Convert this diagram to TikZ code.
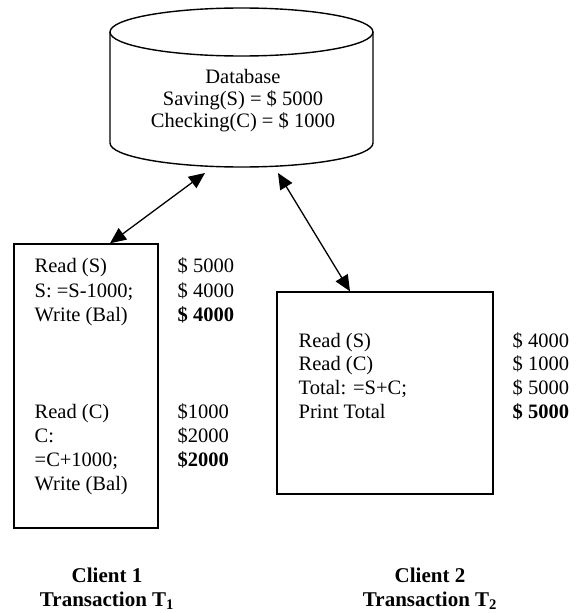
\documentclass[tikz,border=0pt]{standalone}
\usepackage{fontspec}
\setmainfont{Liberation Serif}
\usetikzlibrary{arrows.meta}
\begin{document}
\begin{tikzpicture}[x=1pt,y=-1pt,
  line width=1.4pt,
  txt/.style={anchor=base west,inner sep=0pt,font=\fontsize{20.5}{24}\selectfont},
  val/.style={txt},
  lbl/.style={anchor=base,inner sep=0pt,font=\fontsize{21}{24}\selectfont\bfseries},
  panel/.style={draw,rectangle,inner sep=0pt},
  link/.style={{Triangle[length=16pt,width=14pt]}-{Triangle[length=16pt,width=14pt]},line width=1.3pt}]
\useasboundingbox (0,0) rectangle (582,613);

% database cylinder (y axis points down, so the lower rim runs 180 -> 0)
\draw (110,32) -- (110,143) arc[start angle=180,end angle=0,x radius=131.5,y radius=24] -- (373,32);
\draw (241.5,32) ellipse[x radius=131.5,y radius=24];
\node[anchor=base,inner sep=0pt,align=center,font=\fontsize{20.5}{22}\selectfont] (db) at (243,127)
  {Database\\Saving(S) = \$ 5000\\Checking(C) = \$ 1000};
\coordinate (dbl) at (205,173);
\coordinate (dbr) at (278,173);

% client panels
\node[panel,minimum width=144pt,minimum height=284pt] (lbox) at (86,386) {};
\node[panel,minimum width=216pt,minimum height=202pt] (rbox) at (385,393) {};

% transaction T1
\node[txt] (l1) at (34,272) {Read (S)};
\node[txt] (l2) at (34,297) {S: =S-1000;};
\node[txt] (l3) at (34,321) {Write (Bal)};
\node[txt] (l4) at (34,418) {Read (C)};
\node[txt] (l5) at (34,442) {C:};
\node[txt] (l6) at (34,466) {=C+1000;};
\node[txt] (l7) at (34,490) {Write (Bal)};
\node[val] (v1) at (177,272) {\$ 5000};
\node[val] (v2) at (177,297) {\$ 4000};
\node[val] (v3) at (177,321) {\textbf{\$ 4000}};
\node[val] (v4) at (177,418) {\$1000};
\node[val] (v5) at (177,442) {\$2000};
\node[val] (v6) at (177,466) {\textbf{\$2000}};

% transaction T2
\node[txt] (r1) at (298,347) {Read (S)};
\node[txt] (r2) at (298,370) {Read (C)};
\node[txt] (r3) at (298,394) {Total: =S+C;};
\node[txt] (r4) at (298,418) {Print Total};
\node[val] (w1) at (512,347) {\$ 4000};
\node[val] (w2) at (512,370) {\$ 1000};
\node[val] (w3) at (512,394) {\$ 5000};
\node[val] (w4) at (512,418) {\textbf{\$ 5000}};

% captions
\node[lbl] (c1a) at (107,582) {Client 1};
\node[lbl] (c1b) at (107,606) {Transaction T\textsubscript{1}};
\node[lbl] (c2a) at (430,582) {Client 2};
\node[lbl] (c2b) at (430,606) {Transaction T\textsubscript{2}};

% connections to the database
\draw[link] ([xshift=24pt]lbox.north) -- (dbl);
\draw[link] (dbr) -- ([xshift=-35pt]rbox.north);
\end{tikzpicture}
\end{document}
